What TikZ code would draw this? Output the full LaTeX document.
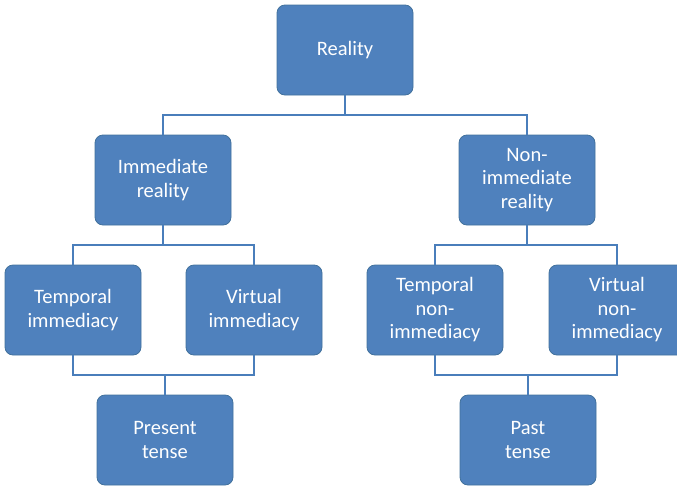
\documentclass[tikz,border=0pt]{standalone}
\usepackage{fontspec}
\setmainfont{Carlito}
\definecolor{boxfill}{HTML}{4F81BD}
\definecolor{boxedge}{HTML}{41719C}
\definecolor{linkcol}{HTML}{4A7EBB}
\tikzset{
  box/.style={draw=boxedge, line width=0.8pt, fill=boxfill, rounded corners=8pt,
    minimum width=136pt, minimum height=90pt, inner sep=0pt,
    text=white, align=center, font=\fontsize{20.5pt}{23.5pt}\selectfont},
  link/.style={draw=linkcol, line width=1.3pt}
}
\begin{document}
\begin{tikzpicture}[x=1pt,y=-1pt]
\useasboundingbox (0,0) rectangle (677,488);
\begin{scope}
\clip (0,0) rectangle (677,488);
% tree nodes
\node[box] (real) at (345,50) {Reality};
\node[box] (imm) at (163,180) {Immediate\\reality};
\node[box] (nimm) at (527,180) {Non-\\immediate\\reality};
\node[box] (timm) at (73,310) {Temporal\\immediacy};
\node[box] (vimm) at (254,310) {Virtual\\immediacy};
\node[box] (tnimm) at (435,310) {Temporal\\non-\\immediacy};
\node[box] (vnimm) at (617,310) {Virtual\\non-\\immediacy};
\node[box] (pres) at (165,440) {Present\\tense};
\node[box] (past) at (528,440) {Past\\tense};
% branching points
\coordinate (j0) at (345,115);
\coordinate (j1) at (163,245);
\coordinate (j2) at (527,245);
\coordinate (j3) at (165,375);
\coordinate (j4) at (528,375);
% connectors
\draw[link] (real.south) -- (j0);
\draw[link] (imm.north) |- (j0) -| (nimm.north);
\draw[link] (imm.south) -- (j1);
\draw[link] (timm.north) |- (j1) -| (vimm.north);
\draw[link] (nimm.south) -- (j2);
\draw[link] (tnimm.north) |- (j2) -| (vnimm.north);
\draw[link] (timm.south) |- (j3) -| (vimm.south);
\draw[link] (j3) -- (pres.north);
\draw[link] (tnimm.south) |- (j4) -| (vnimm.south);
\draw[link] (j4) -- (past.north);
\end{scope}
\end{tikzpicture}
\end{document}
